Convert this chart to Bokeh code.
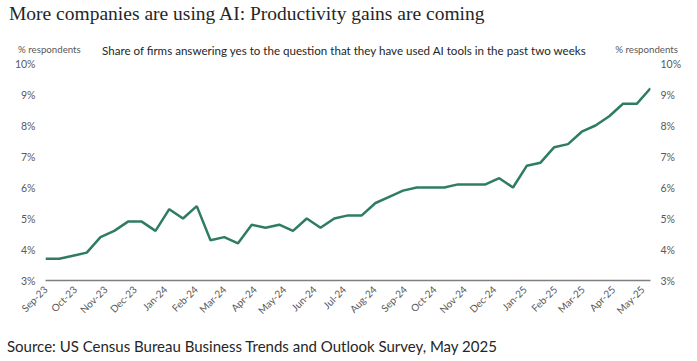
import pandas as pd
from bokeh.plotting import figure
from bokeh.layouts import column
from bokeh.models import (Range1d, LinearAxis, FixedTicker, NumeralTickFormatter,
                          DatetimeTickFormatter, ColumnDataSource, Div)
from bokeh.embed import file_html
from bokeh.resources import INLINE

# Share of firms using AI (%), biweekly BTOS survey periods
share = [3.7, 3.7, 3.8, 3.9, 4.4, 4.6, 4.9, 4.9, 4.6, 5.3, 5.0, 5.4, 4.3, 4.4, 4.2,
         4.8, 4.7, 4.8, 4.6, 5.0, 4.7, 5.0, 5.1, 5.1, 5.5, 5.7, 5.9, 6.0, 6.0, 6.0,
         6.1, 6.1, 6.1, 6.3, 6.0, 6.7, 6.8, 7.3, 7.4, 7.8, 8.0, 8.3, 8.7, 8.7, 9.2]
first_period = "2023-09-11"
periods = pd.date_range(first_period, periods=len(share), freq="14D")
month_ticks = pd.date_range(first_period, periods=21, freq=pd.DateOffset(months=1))
y_ticks = [3, 4, 5, 6, 7, 8, 9, 10]

title = "More companies are using AI: Productivity gains are coming"
subtitle = "Share of firms answering yes to the question that they have used AI tools in the past two weeks"
unit = "% respondents"
source_txt = "Source: US Census Bureau Business Trends and Outlook Survey, May 2025"

GREEN = "#2e7d60"
GRAY = "#595959"
DARK = "#262626"
W = 697
HEAD_H, MAIN_H, FOOT_H = 57, 273, 31


def span(x, yc, text, size, font="Lato", color=DARK, align="left"):
    pos = f"left:{x}px;" if align == "left" else f"right:{W - x}px;"
    return (f'<span style="position:absolute;{pos}top:{yc - size / 2}px;'
            f"font-family:'{font}';font-size:{size}px;line-height:{size}px;"
            f'color:{color};white-space:nowrap;">{text}</span>')


def text_block(h, spans):
    html = (f'<div style="position:relative;width:{W}px;height:{h}px;overflow:visible;">'
            + "".join(spans) + "</div>")
    return Div(text=html, width=W, height=h,
               styles={"margin": "0", "padding": "0", "overflow": "visible"})


head = text_block(HEAD_H, [
    span(9, 14, title, 19.5, font="Liberation Serif"),
    span(102, 51, subtitle, 11.6),
    span(18, 50, unit, 9.7, color=GRAY),
    span(678, 50, unit, 9.7, color=GRAY, align="right"),
])

# main chart
src = ColumnDataSource(dict(x=periods, y=share))
p = figure(width=W, height=MAIN_H, x_axis_type="datetime", output_backend="svg",
           toolbar_location=None, min_border_left=45, min_border_right=47,
           min_border_top=63 - HEAD_H, min_border_bottom=HEAD_H + MAIN_H - 280,
           x_range=Range1d(periods[0], periods[-1]), y_range=Range1d(3, 10))
p.outline_line_color = None
p.xgrid.visible = False
p.ygrid.visible = False

p.line("x", "y", source=src, line_color=GREEN, line_width=2.5)

xa = p.xaxis[0]
xa.ticker = FixedTicker(ticks=[t.value / 1e6 for t in month_ticks])
xa.formatter = DatetimeTickFormatter(days="%b-%y", months="%b-%y", years="%b-%y")
xa.major_label_orientation = 0.785
xa.axis_line_color = "#7f7f7f"
xa.axis_line_width = 1.5
xa.major_tick_line_color = None
xa.minor_tick_line_color = None
xa.major_tick_out = 0
xa.minor_tick_out = 0
xa.major_label_text_font = "Lato"
xa.major_label_text_font_size = "10px"
xa.major_label_text_color = GRAY
xa.major_label_standoff = 7

ya = p.yaxis[0]
ra = LinearAxis()
p.add_layout(ra, "right")
for ax in (ya, ra):
    ax.ticker = FixedTicker(ticks=y_ticks)
    ax.formatter = NumeralTickFormatter(format="0")
    ax.major_label_overrides = {v: f"{v}%" for v in y_ticks}
    ax.axis_line_color = None
    ax.major_tick_line_color = None
    ax.minor_tick_line_color = None
    ax.major_tick_out = 0
    ax.minor_tick_out = 0
    ax.major_label_text_font = "Lato"
    ax.major_label_text_font_size = "10.5px"
    ax.major_label_text_color = GRAY
    ax.major_label_standoff = 10

foot = text_block(FOOT_H, [
    span(7, 346 - HEAD_H - MAIN_H, source_txt, 15),
])

layout = column(head, p, foot, spacing=0)
open("out.html", "w").write(file_html(layout, INLINE))
